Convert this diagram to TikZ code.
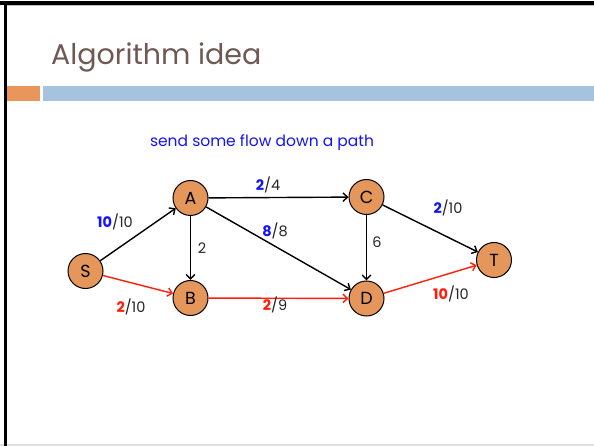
\documentclass[tikz,border=0pt]{standalone}
\usepackage{fontspec}
\setmainfont{Poppins}
\usetikzlibrary{arrows.meta}
\definecolor{titlegrey}{RGB}{110,90,82}
\definecolor{nodeorange}{RGB}{229,150,90}
\definecolor{barorange}{RGB}{232,150,90}
\definecolor{barblue}{RGB}{165,195,220}
\definecolor{flowblue}{RGB}{20,20,250}
\definecolor{flowred}{RGB}{255,30,10}
\tikzset{
  vertex/.style={circle, draw=black, line width=1pt, fill=nodeorange,
    minimum size=35pt, inner sep=0pt, font=\fontsize{17.5}{17.5}\selectfont},
  edge/.style={line width=1.4pt, -{Straight Barb[length=4.5pt,width=8.5pt,line width=1.4pt]}},
  flowedge/.style={edge, draw=flowred},
  cap label/.style={font=\fontsize{14.5}{15}\selectfont, text=black!85, inner sep=1pt},
}
\newcommand{\flowval}[2]{\textbf{\textcolor{#1}{#2}}}
\begin{document}
\begin{tikzpicture}[x=1pt,y=-1pt]
  % slide canvas and frame
  \fill[white] (0,0) rectangle (594,446);
  \useasboundingbox (0,0) rectangle (594,446);
  \fill[black!12] (0,444) rectangle (594,446);
  \fill[black!25] (5,5) rectangle (594,6.5);
  \fill[black] (0,1) rectangle (594,5);
  \fill[black] (4,1) rectangle (7,446);

  % title and rule bars
  \node[anchor=base west, inner sep=0pt, text=titlegrey,
    font=\fontsize{28.5}{29}\selectfont] (title) at (51,65) {Algorithm idea};
  \fill[barorange] (7,86) rectangle (40,101);
  \fill[barblue] (43,86) rectangle (594,101);

  \node[text=flowblue, font=\fontsize{15.5}{16}\selectfont] (caption) at (262,143)
    {send some flow down a path};

  % vertices
  \node[vertex] (S) at (85.5,271) {S};
  \node[vertex] (A) at (190.5,198) {A};
  \node[vertex] (B) at (190.5,298) {B};
  \node[vertex] (C) at (366.5,197) {C};
  \node[vertex] (D) at (366.5,298.5) {D};
  \node[vertex] (T) at (494,260) {T};

  % edges
  \draw[edge] (S) -- (A);
  \draw[flowedge] (S) -- (B);
  \draw[edge] (A) -- (B);
  \draw[edge] (A) -- (C);
  \draw[edge] (A) -- (D);
  \draw[edge] (C) -- (D);
  \draw[edge] (C) -- (T);
  \draw[flowedge] (B) -- (D);
  \draw[flowedge] (D) -- (T);

  % flow / capacity labels
  \node[cap label] (lSA) at (115,222) {\flowval{flowblue}{10}/10};
  \node[cap label] (lSB) at (131,307) {\flowval{flowred}{2}/10};
  \node[cap label] (lAB) at (202,248) {2};
  \node[cap label] (lAC) at (268,185) {\flowval{flowblue}{2}/4};
  \node[cap label] (lAD) at (275,231) {\flowval{flowblue}{8}/8};
  \node[cap label] (lBD) at (275,305) {\flowval{flowred}{2}/9};
  \node[cap label] (lCD) at (377,242) {6};
  \node[cap label] (lCT) at (448,208) {\flowval{flowblue}{2}/10};
  \node[cap label] (lDT) at (451,294) {\flowval{flowred}{10}/10};
\end{tikzpicture}
\end{document}
